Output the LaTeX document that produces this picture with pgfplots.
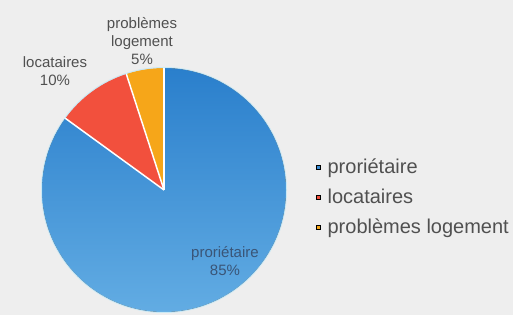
\documentclass[border=0pt]{standalone}
\usepackage{pgfplots}
\pgfplotsset{compat=1.18}
\usepackage{pgfplotstable}
\usepackage{fontspec}
\setmainfont{Liberation Sans}
\definecolor{bg}{HTML}{EEEEEE}
\definecolor{blueTop}{HTML}{2A7FCC}
\definecolor{blueBot}{HTML}{62ACE3}
\definecolor{blueL}{HTML}{3A8CD4}
\definecolor{redS}{HTML}{F2503D}
\definecolor{orangeS}{HTML}{F6A619}
\definecolor{txt}{HTML}{505050}
\definecolor{txtin}{HTML}{3A5577}

\pgfplotstableread{
label value
proprietaire 85
locataires 10
problemes 5
}\piedata

\begin{document}
\begin{tikzpicture}
\pgfplotstablegetelem{0}{value}\of\piedata \pgfmathsetmacro{\va}{\pgfplotsretval}
\pgfplotstablegetelem{1}{value}\of\piedata \pgfmathsetmacro{\vb}{\pgfplotsretval}
\pgfplotstablegetelem{2}{value}\of\piedata \pgfmathsetmacro{\vc}{\pgfplotsretval}
\pgfmathsetmacro{\aA}{90-3.6*\va}
\pgfmathsetmacro{\aB}{\aA-3.6*\vb}
\pgfmathsetmacro{\aC}{\aB-3.6*\vc}
\begin{axis}[
  x=1pt, y=1pt,
  xmin=-164, xmax=349, ymin=-125, ymax=190,
  hide axis, scale only axis, clip=false,
  legend style={at={(axis cs:152,-7)}, anchor=west, draw=none, fill=none,
    font=\fontsize{20}{23}\selectfont, text=txt, row sep=10pt, column sep=5pt, inner sep=0pt},
  legend cell align=left,
  legend image code/.code={\fill[#1] (0pt,-2pt) rectangle (4pt,2pt);},
]
\fill[bg] (axis cs:-164,-125) rectangle (axis cs:349,190);
\fill[top color=blueTop, bottom color=blueBot] (axis cs:0,0) -- (axis cs:0,122) arc[start angle=90, end angle=\aA, radius=122pt] -- cycle;
\fill[redS] (axis cs:0,0) -- (axis cs:{122*cos(\aA)},{122*sin(\aA)}) arc[start angle=\aA, end angle=\aB, radius=122pt] -- cycle;
\fill[orangeS] (axis cs:0,0) -- (axis cs:{122*cos(\aB)},{122*sin(\aB)}) arc[start angle=\aB, end angle=\aC, radius=122pt] -- cycle;
\draw[white, line width=1.5pt] (axis cs:0,0) -- (axis cs:{123*cos(\aA)},{123*sin(\aA)});
\draw[white, line width=1.5pt] (axis cs:0,0) -- (axis cs:{123*cos(\aB)},{123*sin(\aB)});
\draw[white, line width=1.5pt] (axis cs:0,0) -- (axis cs:0,123);
\draw[white!70!cyan, line width=1pt, opacity=0.6] (axis cs:0,0) circle[radius=122.5pt];
\addlegendimage{fill=blueL}
\addlegendentry{proriétaire}
\addlegendimage{fill=redS}
\addlegendentry{locataires}
\addlegendimage{fill=orangeS}
\addlegendentry{problèmes logement}
\node[align=center, text=txtin, font=\fontsize{15}{18}\selectfont] at (axis cs:61,-71.5) {proriétaire\\85\%};
\node[align=center, text=txt, font=\fontsize{15}{18}\selectfont] at (axis cs:-109,118.5) {locataires\\10\%};
\node[align=center, text=txt, font=\fontsize{15}{18}\selectfont] at (axis cs:-22,149) {problèmes\\logement\\5\%};
\end{axis}
\end{tikzpicture}
\end{document}
